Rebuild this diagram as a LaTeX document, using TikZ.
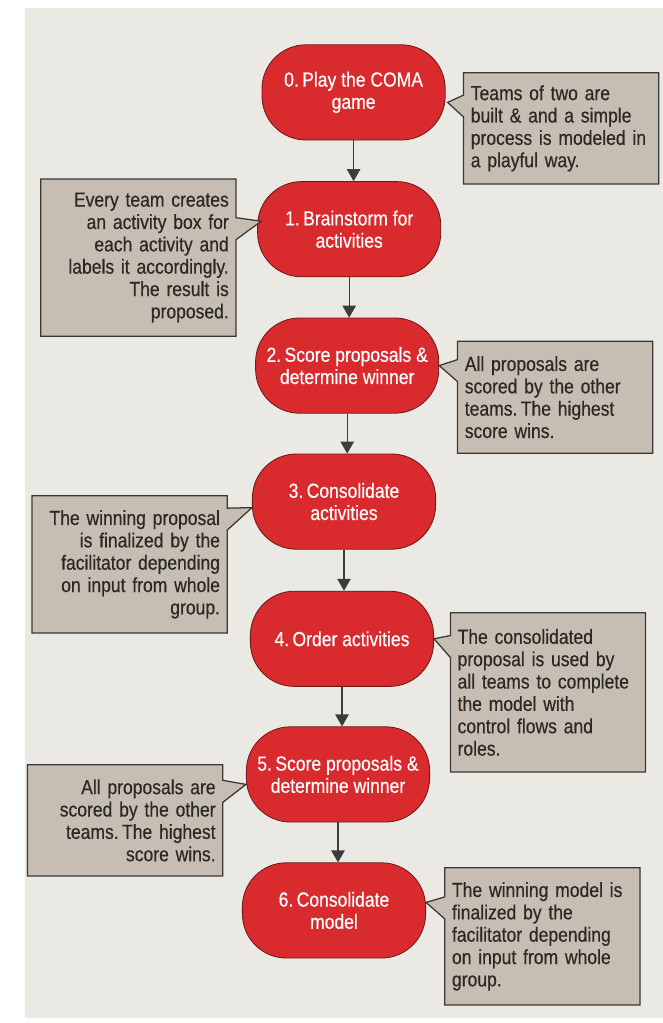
\documentclass[tikz,border=0pt]{standalone}
\usepackage{fontspec}
\setmainfont{Liberation Sans}[FakeStretch=0.86,FakeBold=0.4]
\usetikzlibrary{arrows.meta,shapes.callouts,calc}

\definecolor{pagebg}{HTML}{EBE9E4}
\definecolor{stagered}{HTML}{D92B2E}
\definecolor{redline}{HTML}{6E1A18}
\definecolor{notefill}{HTML}{C6BEB3}
\definecolor{noteline}{HTML}{3A3835}
\definecolor{notetext}{HTML}{2B2825}
\definecolor{arrowgray}{HTML}{3C3C3C}

\tikzset{
  stage/.style={draw=redline, fill=stagered, text=white, line width=0.6pt,
    rounded corners=1.1cm, minimum width=4.58cm, minimum height=2.38cm,
    align=center, font=\fontsize{14.5}{15.8}\selectfont},
  note/.style={rectangle callout, draw=noteline, fill=notefill, text=notetext,
    line width=0.9pt, callout pointer width=0.55cm, inner xsep=0.18cm,
    text width=4.52cm, font=\fontsize{14.5}{15.9}\selectfont},
  flow/.style={draw=arrowgray, line width=0.9pt, -{Triangle[width=9.5pt,length=8.5pt]}}
}

\begin{document}
\begin{tikzpicture}
  \useasboundingbox (0,0) rectangle (16.575,-25.575);
  \fill[pagebg] (0.63,-0.2) rectangle (16.575,-25.45);

  % stages
  \node[stage] (b0) at (8.84,-2.31) {0.\,Play the COMA\\game};
  \node[stage] (b1) at (8.73,-5.73) {1.\,Brainstorm for\\activities};
  \node[stage] (b2) at (8.68,-9.14) {2.\,Score proposals \&\\determine winner};
  \node[stage] (b3) at (8.60,-12.54) {3.\,Consolidate\\activities};
  \node[stage] (b4) at (8.55,-15.97) {4.\,Order activities};
  \node[stage] (b5) at (8.45,-19.36) {5.\,Score proposals \&\\determine winner};
  \node[stage] (b6) at (8.35,-22.76) {6.\,Consolidate\\model};

  % flow
  \draw[flow] (b0.south) -- (b0.south |- b1.north);
  \draw[flow] (b1.south) -- (b1.south |- b2.north);
  \draw[flow] (b2.south) -- (b2.south |- b3.north);
  \draw[flow] (b3.south) -- (b3.south |- b4.north);
  \draw[flow] (b4.south) -- (b4.south |- b5.north);
  \draw[flow] (b5.south) -- (b5.south |- b6.north);

  % notes
  \node[note, align=left, minimum height=2.78cm, callout absolute pointer={($(b0.east)+(0.05,-0.25)$)}] (c0) at (14.03,-3.21)
    {Teams of two are\\built \& and a simple\\process is modeled in\\a playful way.};
  \node[note, align=right, minimum height=3.93cm, callout absolute pointer={($(b1.west)+(0.1,0.2)$)}] (c1) at (3.46,-6.44)
    {Every team creates\\an activity box for\\each activity and\\labels it accordingly.\\The result is\\proposed.};
  \node[note, align=left, minimum height=2.8cm, callout absolute pointer={(b2.east)}] (c2) at (13.88,-9.93)
    {All proposals are\\scored by the other\\teams.\,The highest\\score wins.};
  \node[note, align=right, minimum height=3.43cm, callout absolute pointer={($(b3.west)+(0,-0.15)$)}] (c3) at (3.24,-14.11)
    {The winning proposal\\is finalized by the\\facilitator depending\\on input from whole\\group.};
  \node[note, align=left, minimum height=3.98cm, callout absolute pointer={(b4.east)}] (c4) at (13.70,-17.31)
    {The consolidated\\proposal is used by\\all teams to complete\\the model with\\control flows and\\roles.};
  \node[note, align=right, minimum height=2.78cm, callout absolute pointer={($(b5.west)+(0,-0.25)$)}] (c5) at (3.13,-20.51)
    {All proposals are\\scored by the other\\teams.\,The highest\\score wins.};
  \node[note, align=left, minimum height=3.43cm, callout absolute pointer={($(b6.east)+(0,0.2)$)}] (c6) at (13.56,-23.41)
    {The winning model is\\finalized by the\\facilitator depending\\on input from whole\\group.};
\end{tikzpicture}
\end{document}
